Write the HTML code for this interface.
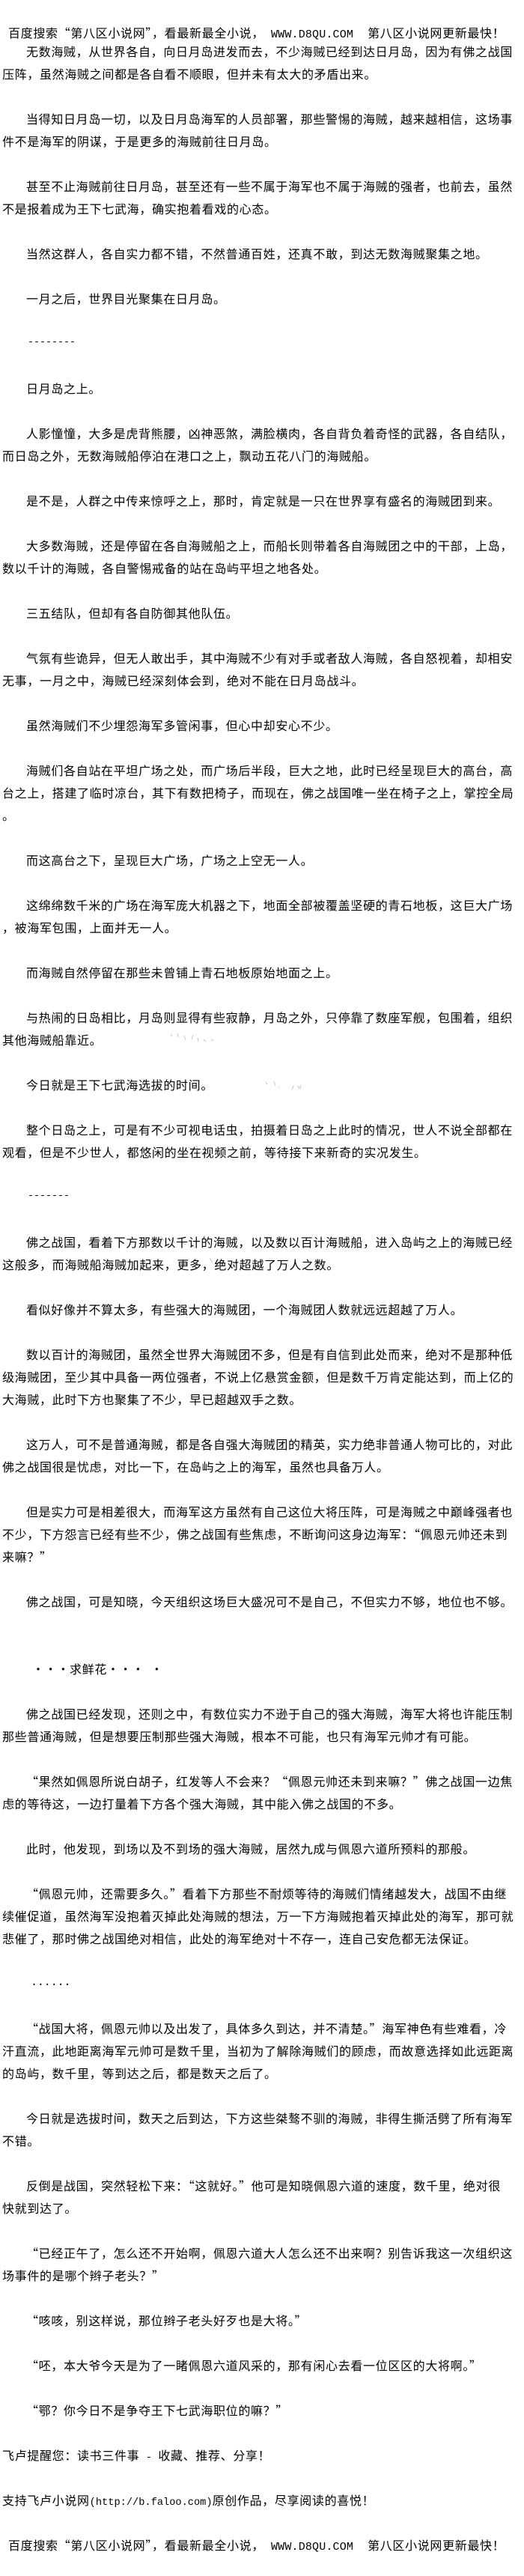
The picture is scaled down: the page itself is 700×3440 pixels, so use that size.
<!DOCTYPE html>
<html lang="zh-CN">
<head>
<meta charset="utf-8">
<title>第八区小说网</title>
<style>
html,body{margin:0;padding:0;background:#fff;}
body{width:700px;height:3440px;position:relative;overflow:hidden;color:#000;
font-family:"WenQuanYi Zen Hei","Noto Sans CJK SC","Liberation Sans",sans-serif;font-size:16px;letter-spacing:.667px;}
div{position:absolute;left:3px;height:30px;line-height:30px;white-space:pre;}
.i{left:35px;}
.m{font-family:"Liberation Mono",monospace;letter-spacing:0;}
.h{left:11px;}
i{font-style:normal;display:inline-block;}
svg{position:absolute;left:0;top:0;}
</style>
</head>
<body>
<svg width="700" height="3440" stroke="#c4c4c4" stroke-width="1" fill="none">
<path d="M228 1381l2 3M237 1380l1 5M246 1383l2 6M258 1382l-2 6M264 1386l1 5M272 1388l3 3M282 1390l3-2"/>
<path d="M355 1445l2 3M366 1444l2 6M372 1452l1 1M392 1450l-2 5M398 1450l2 4M402 1449l-1 5"/>
<path d="M223 1505l6 6M232 1508l-4 6M240 1504l3 8M252 1532l8 4M262 1530l3 6M268 1538l6 6M290 1536l6 10M500 1500l8 6M505 1510l6 4"/>
<path d="M215 1651l6 8M228 1654l6 6M240 1658l8 4M255 1662l6 4M280 1680l4 6M292 1682l6 8M315 1684l-2 8M415 1740l6 6M425 1742l-4 6"/>
</svg>

<div class="h" style="top:28px">百度搜索“第八区小说网”&#65292;看最新最全小说&#65292;<i style="width:9px"></i><span class="m" style="font-size:15px;letter-spacing:.17px">WWW.D8QU.COM</span><i style="width:19px"></i>第八区小说网更新最快&#65281;</div>
<div class="i" style="top:53px">无数海贼&#65292;从世界各自&#65292;向日月岛进发而去&#65292;不少海贼已经到达日月岛&#65292;因为有佛之战国</div>
<div style="top:83px">压阵&#65292;虽然海贼之间都是各自看不顺眼&#65292;但并未有太大的矛盾出来。</div>
<div class="i" style="top:143px">当得知日月岛一切&#65292;以及日月岛海军的人员部署&#65292;那些警惕的海贼&#65292;越来越相信&#65292;这场事</div>
<div style="top:173px">件不是海军的阴谋&#65292;于是更多的海贼前往日月岛。</div>
<div class="i" style="top:233px">甚至不止海贼前往日月岛&#65292;甚至还有一些不属于海军也不属于海贼的强者&#65292;也前去&#65292;虽然</div>
<div style="top:263px">不是报着成为王下七武海&#65292;确实抱着看戏的心态。</div>
<div class="i" style="top:323px">当然这群人&#65292;各自实力都不错&#65292;不然普通百姓&#65292;还真不敢&#65292;到达无数海贼聚集之地。</div>
<div class="i" style="top:383px">一月之后&#65292;世界目光聚集在日月岛。</div>
<div class="i m" style="top:443px;left:37px;font-size:13.33px">--------</div>
<div class="i" style="top:503px">日月岛之上。</div>
<div class="i" style="top:563px">人影憧憧&#65292;大多是虎背熊腰&#65292;凶神恶煞&#65292;满脸横肉&#65292;各自背负着奇怪的武器&#65292;各自结队&#65292;</div>
<div style="top:593px">而日岛之外&#65292;无数海贼船停泊在港口之上&#65292;飘动五花八门的海贼船。</div>
<div class="i" style="top:653px">是不是&#65292;人群之中传来惊呼之上&#65292;那时&#65292;肯定就是一只在世界享有盛名的海贼团到来。</div>
<div class="i" style="top:713px">大多数海贼&#65292;还是停留在各自海贼船之上&#65292;而船长则带着各自海贼团之中的干部&#65292;上岛&#65292;</div>
<div style="top:743px">数以千计的海贼&#65292;各自警惕戒备的站在岛屿平坦之地各处。</div>
<div class="i" style="top:803px">三五结队&#65292;但却有各自防御其他队伍。</div>
<div class="i" style="top:863px">气氛有些诡异&#65292;但无人敢出手&#65292;其中海贼不少有对手或者敌人海贼&#65292;各自怒视着&#65292;却相安</div>
<div style="top:893px">无事&#65292;一月之中&#65292;海贼已经深刻体会到&#65292;绝对不能在日月岛战斗。</div>
<div class="i" style="top:953px">虽然海贼们不少埋怨海军多管闲事&#65292;但心中却安心不少。</div>
<div class="i" style="top:1013px">海贼们各自站在平坦广场之处&#65292;而广场后半段&#65292;巨大之地&#65292;此时已经呈现巨大的高台&#65292;高</div>
<div style="top:1043px">台之上&#65292;搭建了临时凉台&#65292;其下有数把椅子&#65292;而现在&#65292;佛之战国唯一坐在椅子之上&#65292;掌控全局</div>
<div style="top:1073px">。</div>
<div class="i" style="top:1133px">而这高台之下&#65292;呈现巨大广场&#65292;广场之上空无一人。</div>
<div class="i" style="top:1193px">这绵绵数千米的广场在海军庞大机器之下&#65292;地面全部被覆盖坚硬的青石地板&#65292;这巨大广场</div>
<div style="top:1223px">&#65292;被海军包围&#65292;上面并无一人。</div>
<div class="i" style="top:1283px">而海贼自然停留在那些未曾铺上青石地板原始地面之上。</div>
<div class="i" style="top:1343px">与热闹的日岛相比&#65292;月岛则显得有些寂静&#65292;月岛之外&#65292;只停靠了数座军舰&#65292;包围着&#65292;组织</div>
<div style="top:1373px">其他海贼船靠近。</div>
<div class="i" style="top:1433px">今日就是王下七武海选拔的时间。</div>
<div class="i" style="top:1493px">整个日岛之上&#65292;可是有不少可视电话虫&#65292;拍摄着日岛之上此时的情况&#65292;世人不说全部都在</div>
<div style="top:1523px">观看&#65292;但是不少世人&#65292;都悠闲的坐在视频之前&#65292;等待接下来新奇的实况发生。</div>
<div class="i m" style="top:1583px;left:37px;font-size:13.33px">-------</div>
<div class="i" style="top:1643px">佛之战国&#65292;看着下方那数以千计的海贼&#65292;以及数以百计海贼船&#65292;进入岛屿之上的海贼已经</div>
<div style="top:1673px">这般多&#65292;而海贼船海贼加起来&#65292;更多&#65292;绝对超越了万人之数。</div>
<div class="i" style="top:1733px">看似好像并不算太多&#65292;有些强大的海贼团&#65292;一个海贼团人数就远远超越了万人。</div>
<div class="i" style="top:1793px">数以百计的海贼团&#65292;虽然全世界大海贼团不多&#65292;但是有自信到此处而来&#65292;绝对不是那种低</div>
<div style="top:1823px">级海贼团&#65292;至少其中具备一两位强者&#65292;不说上亿悬赏金额&#65292;但是数千万肯定能达到&#65292;而上亿的</div>
<div style="top:1853px">大海贼&#65292;此时下方也聚集了不少&#65292;早已超越双手之数。</div>
<div class="i" style="top:1913px">这万人&#65292;可不是普通海贼&#65292;都是各自强大海贼团的精英&#65292;实力绝非普通人物可比的&#65292;对此</div>
<div style="top:1943px">佛之战国很是忧虑&#65292;对比一下&#65292;在岛屿之上的海军&#65292;虽然也具备万人。</div>
<div class="i" style="top:2003px">但是实力可是相差很大&#65292;而海军这方虽然有自己这位大将压阵&#65292;可是海贼之中巅峰强者也</div>
<div style="top:2033px">不少&#65292;下方怨言已经有些不少&#65292;佛之战国有些焦虑&#65292;不断询问这身边海军&#65306;“佩恩元帅还未到</div>
<div style="top:2063px">来嘛&#65311;”</div>
<div class="i" style="top:2123px">佛之战国&#65292;可是知晓&#65292;今天组织这场巨大盛况可不是自己&#65292;不但实力不够&#65292;地位也不够。</div>
<div style="top:2213px;left:43px">・・・求鲜花・・・<i style="width:8.3px"></i>・</div>
<div class="i" style="top:2273px">佛之战国已经发现&#65292;还则之中&#65292;有数位实力不逊于自己的强大海贼&#65292;海军大将也许能压制</div>
<div style="top:2303px">那些普通海贼&#65292;但是想要压制那些强大海贼&#65292;根本不可能&#65292;也只有海军元帅才有可能。</div>
<div class="i" style="top:2363px">“果然如佩恩所说白胡子&#65292;红发等人不会来&#65311;“佩恩元帅还未到来嘛&#65311;”佛之战国一边焦</div>
<div style="top:2393px">虑的等待这&#65292;一边打量着下方各个强大海贼&#65292;其中能入佛之战国的不多。</div>
<div class="i" style="top:2453px">此时&#65292;他发现&#65292;到场以及不到场的强大海贼&#65292;居然九成与佩恩六道所预料的那般。</div>
<div class="i" style="top:2513px">“佩恩元帅&#65292;还需要多久。”看着下方那些不耐烦等待的海贼们情绪越发大&#65292;战国不由继</div>
<div style="top:2543px">续催促道&#65292;虽然海军没抱着灭掉此处海贼的想法&#65292;万一下方海贼抱着灭掉此处的海军&#65292;那可就</div>
<div style="top:2573px">悲催了&#65292;那时佛之战国绝对相信&#65292;此处的海军绝对十不存一&#65292;连自己安危都无法保证。</div>
<div class="m" style="top:2633px;left:41px;font-size:15px;letter-spacing:-.1px">......</div>
<div class="i" style="top:2693px">“战国大将&#65292;佩恩元帅以及出发了&#65292;具体多久到达&#65292;并不清楚。”海军神色有些难看&#65292;冷</div>
<div style="top:2723px">汗直流&#65292;此地距离海军元帅可是数千里&#65292;当初为了解除海贼们的顾虑&#65292;而故意选择如此远距离</div>
<div style="top:2753px">的岛屿&#65292;数千里&#65292;等到达之后&#65292;都是数天之后了。</div>
<div class="i" style="top:2813px">今日就是选拔时间&#65292;数天之后到达&#65292;下方这些桀骜不驯的海贼&#65292;非得生撕活劈了所有海军</div>
<div style="top:2843px">不错。</div>
<div class="i" style="top:2903px">反倒是战国&#65292;突然轻松下来&#65306;“这就好。”他可是知晓佩恩六道的速度&#65292;数千里&#65292;绝对很</div>
<div style="top:2933px">快就到达了。</div>
<div class="i" style="top:2993px">“已经正午了&#65292;怎么还不开始啊&#65292;佩恩六道大人怎么还不出来啊&#65311;别告诉我这一次组织这</div>
<div style="top:3023px">场事件的是哪个辫子老头&#65311;”</div>
<div class="i" style="top:3083px">“咳咳&#65292;别这样说&#65292;那位辫子老头好歹也是大将。”</div>
<div class="i" style="top:3143px">“呸&#65292;本大爷今天是为了一睹佩恩六道风采的&#65292;那有闲心去看一位区区的大将啊。”</div>
<div class="i" style="top:3203px">“鄂&#65311;你今日不是争夺王下七武海职位的嘛&#65311;”</div>
<div style="top:3263px">飞卢提醒您&#65306;读书三件事<i style="width:8.3px"></i><span class="m" style="font-size:14px">-</span><i style="width:8.3px"></i>收藏、推荐、分享&#65281;</div>
<div style="top:3323px">支持飞卢小说网<span class="m" style="font-size:13.67px">(http://b.faloo.com)</span>原创作品&#65292;尽享阅读的喜悦&#65281;</div>
<div class="h" style="top:3383px">百度搜索“第八区小说网”&#65292;看最新最全小说&#65292;<i style="width:9px"></i><span class="m" style="font-size:15px;letter-spacing:.17px">WWW.D8QU.COM</span><i style="width:19px"></i>第八区小说网更新最快&#65281;</div>
</body>
</html>
